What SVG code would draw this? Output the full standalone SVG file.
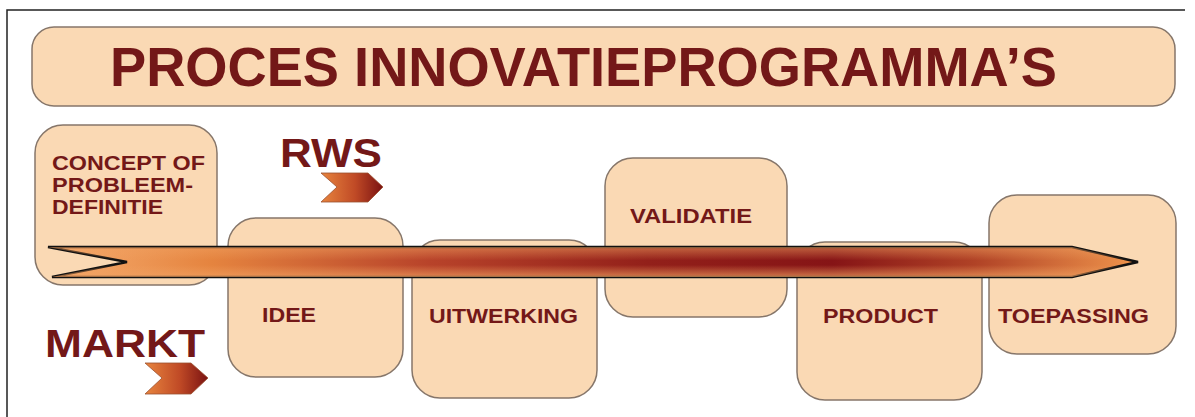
<svg xmlns="http://www.w3.org/2000/svg" width="1195" height="417" viewBox="0 0 1195 417">
<defs>
<style>
.box{fill:#fad9b4;stroke:#86766a;stroke-width:1.5}
.t{font-family:"Liberation Sans",Arial,sans-serif;font-weight:bold;fill:#731818}
.lbl{font-size:21px}
</style>
<linearGradient id="shaft" x1="48" y1="0" x2="1138" y2="0" gradientUnits="userSpaceOnUse">
<stop offset="0" stop-color="#f6ad70"/>
<stop offset="0.15" stop-color="#e5843f"/>
<stop offset="0.35" stop-color="#b8432a"/>
<stop offset="0.55" stop-color="#93201a"/>
<stop offset="0.72" stop-color="#861416"/>
<stop offset="0.85" stop-color="#b04226"/>
<stop offset="1" stop-color="#f0954c"/>
</linearGradient>
<linearGradient id="tube" x1="0" y1="247" x2="0" y2="277" gradientUnits="userSpaceOnUse">
<stop offset="0" stop-color="#f0a060" stop-opacity="0.55"/>
<stop offset="0.45" stop-color="#f0a060" stop-opacity="0"/>
<stop offset="0.6" stop-color="#f0a060" stop-opacity="0"/>
<stop offset="1" stop-color="#f0a060" stop-opacity="0.7"/>
</linearGradient>
<linearGradient id="chev" x1="0" y1="0" x2="1" y2="0">
<stop offset="0" stop-color="#e8853e"/>
<stop offset="0.55" stop-color="#c04a26"/>
<stop offset="1" stop-color="#7a1212"/>
</linearGradient>
</defs>
<rect width="1195" height="417" fill="#ffffff"/>
<path d="M7,417 V10 H1185" fill="none" stroke="#222" stroke-width="1.5"/>

<g id="title">
<rect class="box" x="32" y="27" width="1143" height="79" rx="22"/>
<text class="t" x="110" y="86" font-size="55" textLength="947" lengthAdjust="spacingAndGlyphs">PROCES INNOVATIEPROGRAMMA’S</text>
</g>

<g id="concept">
<rect class="box" x="35" y="125" width="182" height="160" rx="28"/>
<text class="t lbl" x="52" y="170" font-size="21" textLength="153" lengthAdjust="spacingAndGlyphs">CONCEPT OF</text>
<text class="t lbl" x="52" y="192" font-size="21" textLength="141" lengthAdjust="spacingAndGlyphs">PROBLEEM-</text>
<text class="t lbl" x="52" y="214" font-size="21" textLength="111" lengthAdjust="spacingAndGlyphs">DEFINITIE</text>
</g>

<g id="rws">
<text class="t" x="280" y="167" font-size="41" textLength="102" lengthAdjust="spacingAndGlyphs">RWS</text>
<polygon points="321,173 368,173 383,187 368,202 321,202 337,187" fill="url(#chev)" stroke="#9a5030" stroke-width="0.8"/>
</g>

<g id="markt">
<text class="t" x="45" y="357" font-size="39" textLength="160" lengthAdjust="spacingAndGlyphs">MARKT</text>
<polygon points="145,363 191,363 208,378 191,394 145,394 162,378" fill="url(#chev)" stroke="#9a5030" stroke-width="0.8"/>
</g>

<g id="idee">
<rect class="box" x="228" y="218" width="175" height="159" rx="28"/>
<text class="t lbl" x="262" y="322" textLength="54" lengthAdjust="spacingAndGlyphs">IDEE</text>
</g>

<g id="uitwerking">
<rect class="box" x="412" y="240" width="185" height="158" rx="28"/>
<text class="t lbl" x="429" y="323" textLength="149" lengthAdjust="spacingAndGlyphs">UITWERKING</text>
</g>

<g id="validatie">
<rect class="box" x="605" y="158" width="182" height="159" rx="28"/>
<text class="t lbl" x="630" y="223" textLength="122" lengthAdjust="spacingAndGlyphs">VALIDATIE</text>
</g>

<g id="product">
<rect class="box" x="797" y="242" width="185" height="158" rx="28"/>
<text class="t lbl" x="823" y="323" textLength="115" lengthAdjust="spacingAndGlyphs">PRODUCT</text>
</g>

<g id="toepassing">
<rect class="box" x="989" y="195" width="187" height="159" rx="28"/>
<text class="t lbl" x="998" y="323" textLength="151" lengthAdjust="spacingAndGlyphs">TOEPASSING</text>
</g>

<g id="connectors">
<polygon points="48,247 1072,247 1138,262 1072,277 52,277 127,262" fill="url(#shaft)" stroke="#111" stroke-width="2.5" stroke-linejoin="miter"/>
<polygon points="48,247 1072,247 1138,262 1072,277 52,277 127,262" fill="url(#tube)"/>
</g>
</svg>
